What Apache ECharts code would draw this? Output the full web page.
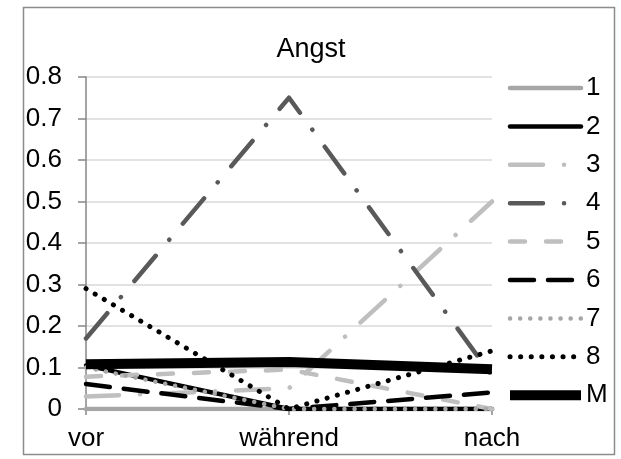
<!DOCTYPE html>
<html><head><meta charset="utf-8">
<script src="https://cdn.jsdelivr.net/npm/echarts@6/dist/echarts.min.js"></script>
<style>html,body{margin:0;padding:0;background:#fff}#c{width:621px;height:459px}</style>
</head><body><div id="c"></div>
<script>
const categories = ['vor', 'während', 'nach'];
const yTicks = [0, 0.1, 0.2, 0.3, 0.4, 0.5, 0.6, 0.7, 0.8];
const s1 = [0, 0, 0];
const s2 = [0.105, 0, 0];
const s3 = [0.03, 0.05, 0.5];
const s4 = [0.17, 0.75, 0.08];
const s5 = [0.078, 0.095, 0];
const s6 = [0.06, 0, 0.04];
const s7 = [0.1, 0, 0];
const s8 = [0.29, 0, 0.14];
const sM = [0.108, 0.113, 0.096];
const seriesNames = ['1', '2', '3', '4', '5', '6', '7', '8', 'M'];

const FONT = 'Arial, "Liberation Sans", sans-serif';
const styles = [
  {color: '#a6a6a6', width: 4.5, type: 'solid', cap: 'round'},
  {color: '#000000', width: 4.5, type: 'solid', cap: 'round'},
  {color: '#bfbfbf', width: 4.5, type: [33, 21, 0.1, 21], cap: 'round'},
  {color: '#595959', width: 4.5, type: [33, 21, 0.1, 21], cap: 'round'},
  {color: '#bfbfbf', width: 4.5, type: [15, 21], cap: 'round'},
  {color: '#000000', width: 4.5, type: [24, 14], cap: 'round'},
  {color: '#a6a6a6', width: 4.5, type: [0.1, 10], cap: 'round'},
  {color: '#000000', width: 5, type: [0.1, 10.5], cap: 'round'},
  {color: '#000000', width: 10, type: 'solid', cap: 'butt'}
];
const data = [s1, s2, s3, s4, s5, s6, s7, s8, sM];

const chart = echarts.init(document.getElementById('c'), null, {renderer: 'canvas'});
chart.setOption({
  animation: false,
  backgroundColor: '#fff',
  title: {
    text: 'Angst', left: 306, top: 31, textAlign: 'center',
    textStyle: {fontFamily: FONT, fontSize: 27, fontWeight: 'normal', color: '#000', lineHeight: 28}
  },
  graphic: [{
    type: 'rect', left: 21, top: 5, z: -1,
    shape: {width: 591, height: 447},
    style: {fill: 'none', stroke: '#8c8c8c', lineWidth: 1.5}
  }],
  legend: {
    orient: 'vertical', left: 505, top: 75, padding: 0,
    itemWidth: 71, itemHeight: 14, itemGap: 12.4,
    itemStyle: {opacity: 0},
    lineStyle: {width: 'inherit'},
    textStyle: {fontFamily: FONT, fontSize: 26, color: '#000', lineHeight: 26, padding: [0, 0, 0, 0]},
    data: seriesNames
  },
  grid: {left: 86, right: 129, top: 77, bottom: 50, containLabel: false},
  xAxis: {
    type: 'category', data: categories, boundaryGap: false,
    axisLine: {lineStyle: {color: '#868686', width: 1.5}},
    axisTick: {show: true, length: 6, lineStyle: {color: '#868686', width: 1.5}},
    axisLabel: {fontFamily: FONT, fontSize: 26, color: '#000', margin: 17},
    splitLine: {show: false}
  },
  yAxis: {
    type: 'value', min: 0, max: 0.8, interval: 0.1,
    axisLine: {show: true, lineStyle: {color: '#868686', width: 1.5}},
    axisTick: {show: true, inside: false, length: 8, lineStyle: {color: '#868686', width: 1.5}},
    axisLabel: {fontFamily: FONT, fontSize: 26, color: '#000', margin: 24,
      formatter: v => { const t = yTicks.find(x => Math.abs(x - v) < 1e-9); return String(t !== undefined ? t : +v.toFixed(1)); }},
    splitLine: {show: true, lineStyle: {color: '#d9d9d9', width: 1.5}}
  },
  series: data.map((d, i) => ({
    name: seriesNames[i], type: 'line', data: d,
    symbol: 'none', showSymbol: false,
    color: styles[i].color,
    lineStyle: {color: styles[i].color, width: styles[i].width, type: styles[i].type, cap: styles[i].cap, join: 'round'},
    z: 2 + i
  }))
});
</script></body></html>
